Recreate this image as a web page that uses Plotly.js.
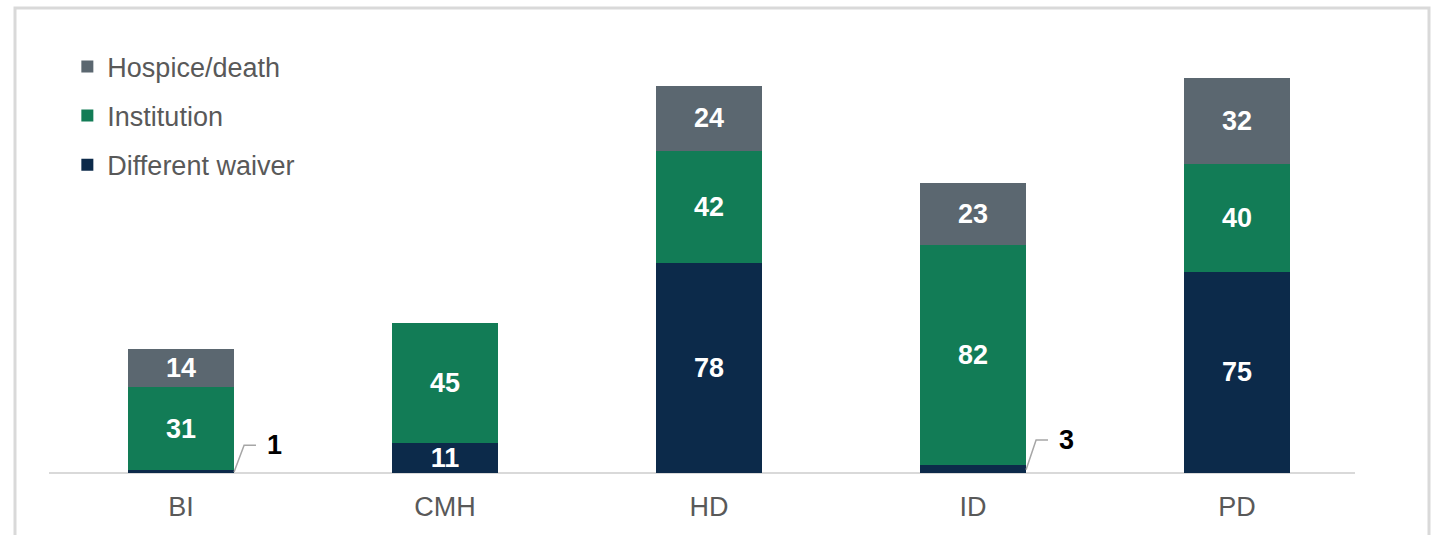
<!DOCTYPE html>
<html>
<head>
<meta charset="utf-8">
<script src="https://cdn.plot.ly/plotly-3.0.1.min.js"></script>
<style>
  html, body { margin: 0; padding: 0; background: #ffffff; }
  #chart { width: 1437px; height: 535px; }
</style>
</head>
<body>
<div id="chart"></div>
<script>
// ---- Data ----
const categories = ["BI", "CMH", "HD", "ID", "PD"];
const differentWaiver = [1, 11, 78, 3, 75];
const institution = [31, 45, 42, 82, 40];
const hospiceDeath = [14, null, 24, 23, 32];
const seriesNames = ["Different waiver", "Institution", "Hospice/death"];

// ---- Style ----
const colors = { waiver: "#0c2a4a", institution: "#127c56", hospice: "#5b6770" };
const FONT = "Liberation Sans, Arial, sans-serif";
const barFraction = 0.402;
const smallThreshold = 5;

function insideText(vals) {
  return vals.map(v => (v === null || v < smallThreshold) ? "" : String(v));
}

function barTrace(name, vals, color, rank) {
  return {
    type: "bar",
    name: name,
    legendgroup: name,
    legendrank: rank,
    x: categories,
    y: vals,
    marker: { color: color, line: { width: 0 } },
    text: insideText(vals),
    textposition: "inside",
    insidetextanchor: "middle",
    textangle: 0,
    constraintext: "none",
    textfont: { family: FONT, size: 27, color: "#ffffff", weight: "bold" },
    hoverinfo: "skip"
  };
}

const traces = [
  barTrace(seriesNames[0], differentWaiver, colors.waiver, 3),
  barTrace(seriesNames[1], institution, colors.institution, 2),
  barTrace(seriesNames[2], hospiceDeath, colors.hospice, 1)
];

// Callouts for small bottom-segment values (leader lines + labels)
const shapes = [];
const annotations = [];
differentWaiver.forEach((v, i) => {
  if (v < smallThreshold) {
    const xr = i + barFraction / 2;
    const yTop = v + 9.3;
    shapes.push({
      type: "path", xref: "x", yref: "y",
      path: `M ${xr} ${v * 0.4} L ${xr + 0.038} ${yTop} L ${xr + 0.083} ${yTop}`,
      line: { color: "#a6a6a6", width: 1.5 }
    });
    annotations.push({
      xref: "x", yref: "y", x: xr + 0.118, y: yTop,
      xanchor: "left", yanchor: "middle",
      text: String(v), showarrow: false,
      font: { family: FONT, size: 27, color: "#000000", weight: "bold" }
    });
  }
});

// Axis baseline
shapes.push({
  type: "line", xref: "paper", yref: "paper",
  x0: 0, x1: 0.9894, y0: 0, y1: 0,
  line: { color: "#d9d9d9", width: 2 }, layer: "below"
});

// Outer frame
shapes.push({
  type: "rect", xref: "paper", yref: "paper",
  x0: -0.02576, x1: 1.04545, y0: -0.3, y1: 1.0497,
  line: { color: "#d9d9d9", width: 3 }, fillcolor: "rgba(0,0,0,0)", layer: "below"
});

const layout = {
  width: 1437, height: 535,
  margin: { l: 49, r: 68, t: 30, b: 62, pad: 0 },
  paper_bgcolor: "#ffffff", plot_bgcolor: "#ffffff",
  font: { family: FONT, size: 27, color: "#595959" },
  barmode: "stack",
  bargap: 1 - barFraction,
  showlegend: true,
  legend: {
    x: 0.0139, y: 0.972, xanchor: "left", yanchor: "top",
    traceorder: "grouped",
    tracegroupgap: 11,
    font: { family: FONT, size: 27, color: "#595959" },
    bgcolor: "rgba(0,0,0,0)"
  },
  xaxis: {
    type: "category",
    showgrid: false, zeroline: false,
    showline: false,
    ticks: "", ticklabelstandoff: 15,
    tickfont: { family: FONT, size: 27, color: "#595959" },
    fixedrange: true
  },
  yaxis: {
    visible: false, range: [0, 164.9], showgrid: false, zeroline: false, fixedrange: true
  },
  shapes: shapes,
  annotations: annotations,
  hovermode: false
};

Plotly.newPlot("chart", traces, layout, { staticPlot: true, displayModeBar: false });
</script>
</body>
</html>
